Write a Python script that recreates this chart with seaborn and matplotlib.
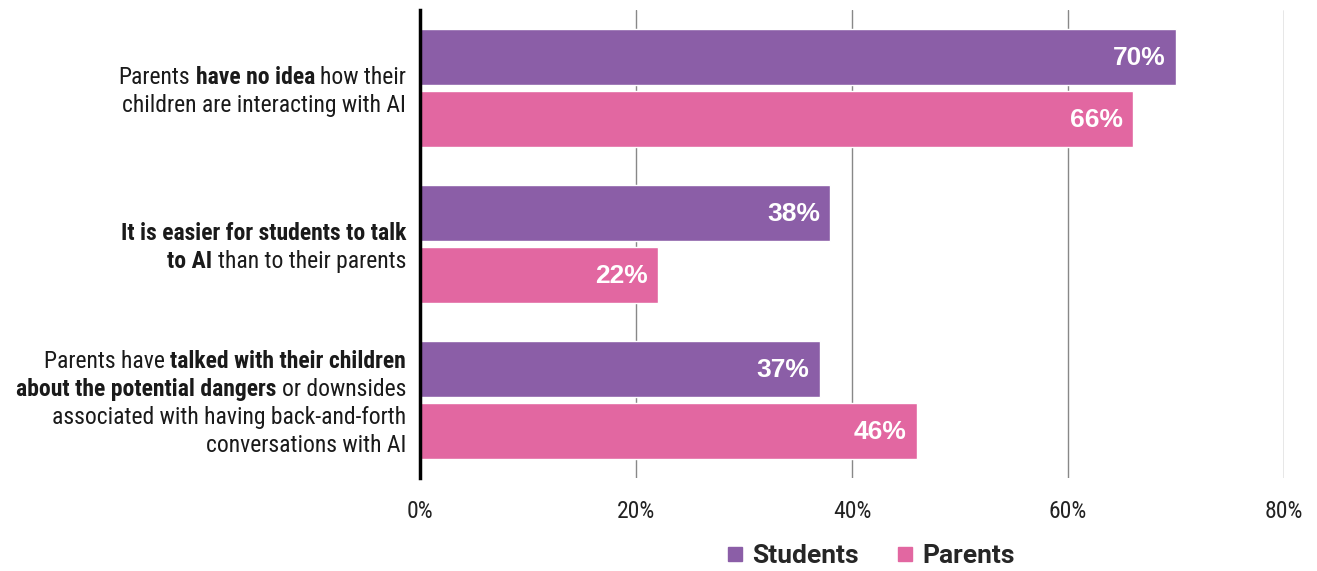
import matplotlib
matplotlib.use("Agg")
import matplotlib.pyplot as plt
import matplotlib.transforms as mtransforms
from matplotlib import font_manager
from matplotlib.font_manager import FontProperties
from matplotlib.lines import Line2D
import seaborn as sns
import pandas as pd

# data
categories = ["no_idea", "easier_ai", "talked_dangers"]
students = [70, 38, 37]
parents = [66, 22, 46]
groups = ["Students", "Parents"]
x_ticks = [0, 20, 40, 60, 80]

# label lines as (text, bold) segments
label_lines = [
    [[("Parents", False), ("have no idea", True), ("how their", False)],
     [("children are interacting with AI", False)]],
    [[("It is easier for students to talk", True)],
     [("to AI", True), ("than to their parents", False)]],
    [[("Parents have", False), ("talked with their children", True)],
     [("about the potential dangers", True), ("or downsides", False)],
     [("associated with having back-and-forth", False)],
     [("conversations with AI", False)]],
]

PURPLE = "#8B5EA7"
PINK = "#E267A1"


def weight_num(w):
    if isinstance(w, int):
        return w
    return {"normal": 400, "regular": 400, "book": 400, "medium": 500, "semibold": 600,
            "demibold": 600, "bold": 700, "heavy": 800, "black": 900, "light": 300}.get(str(w).lower(), 400)


def find_condensed():
    # look for a narrow/condensed face with a regular and bold file
    prefs = ["Roboto Condensed", "Noto Sans", "DejaVu Sans", "Liberation Sans Narrow", "Open Sans"]
    entries = font_manager.fontManager.ttflist
    for fam in prefs:
        cand = [e for e in entries if e.name == fam and e.style == "normal"
                and ("condensed" in str(e.stretch) or "Narrow" in e.name or "Condensed" in e.name)
                and "extra" not in str(e.stretch) and "ultra" not in str(e.stretch)]
        reg = [e for e in cand if weight_num(e.weight) == 400]
        bold = [e for e in cand if weight_num(e.weight) == 700]
        if reg and bold:
            return reg[0].fname, bold[0].fname
    return None, None


reg_file, bold_file = find_condensed()
if reg_file:
    fp_reg = FontProperties(fname=reg_file, size=17)
    fp_bold = FontProperties(fname=bold_file, size=17)
    fp_tick = FontProperties(fname=reg_file, size=17)
else:
    fp_reg = FontProperties(family="Roboto", size=15)
    fp_bold = FontProperties(family="Roboto", weight="bold", size=15)
    fp_tick = FontProperties(family="Roboto", size=15)

sns.set_theme(style="white")
plt.rcParams["font.family"] = ["Roboto", "DejaVu Sans"]

df = pd.DataFrame({
    "category": categories * 2,
    "value": students + parents,
    "group": [groups[0]] * 3 + [groups[1]] * 3,
})

fig = plt.figure(figsize=(13.17, 5.71), dpi=100)
ax = fig.add_axes([420 / 1317, 1 - 478 / 571, 864 / 1317, 468 / 571])

sns.barplot(data=df, y="category", x="value", hue="group", orient="h",
            palette=[PURPLE, PINK], width=0.8, gap=0.1, ax=ax, legend=False,
            saturation=1)

ax.set_xlim(0, 80)
ax.set_ylim(2.5, -0.5)
ax.set_xticks(x_ticks)
ax.set_xticklabels([f"{t}%" for t in x_ticks], fontproperties=fp_tick, color="#222222")
ax.tick_params(axis="x", length=0, pad=16)
ax.set_yticks([])
ax.set_xlabel("")
ax.set_ylabel("")
ax.grid(axis="x", color="#888888", linewidth=1)
ax.set_axisbelow(True)
for s in ["top", "right", "bottom"]:
    ax.spines[s].set_visible(False)
ax.spines["left"].set_color("black")
ax.spines["left"].set_linewidth(2.5)
ax.spines["left"].set_zorder(5)

# value labels, inside the bar end
for cont in ax.containers:
    for bar in cont:
        tr = mtransforms.offset_copy(ax.transData, fig=fig, x=-10, y=-1, units="dots")
        ax.text(bar.get_width(), bar.get_y() + bar.get_height() / 2, f"{bar.get_width():.0f}%",
                transform=tr, ha="right", va="center", color="white", fontsize=19,
                fontweight="bold", fontfamily=["Liberation Sans", "DejaVu Sans"])

# mixed-weight category labels, right aligned
fig.canvas.draw()
renderer = fig.canvas.get_renderer()


def text_width(s, bold):
    t = fig.text(0, 0, s, fontproperties=fp_bold if bold else fp_reg)
    w = t.get_window_extent(renderer).width
    t.remove()
    return w


space_w = text_width("a a", False) - text_width("aa", False)
line_h = 28
base = mtransforms.blended_transform_factory(ax.transAxes, ax.transData)
for i, lines in enumerate(label_lines):
    n = len(lines)
    for j, segs in enumerate(lines):
        dy = ((n - 1) / 2 - j) * line_h - 3
        dx = -14
        for text, bold in reversed(segs):
            tr = mtransforms.offset_copy(base, fig=fig, x=dx, y=dy, units="dots")
            ax.text(0, i, text, transform=tr, ha="right", va="center", color="#1a1a1a",
                    fontproperties=fp_bold if bold else fp_reg)
            dx -= text_width(text, bold) + space_w

handles = [Line2D([], [], marker="s", linestyle="", markersize=10.5, color=c) for c in [PURPLE, PINK]]
leg = fig.legend(handles, groups, loc="center", bbox_to_anchor=(0.658, 0.026), ncol=2,
                 frameon=False, handletextpad=0.0, columnspacing=1.1, handlelength=1.3,
                 borderpad=0.2, prop={"family": "Roboto", "weight": "bold", "size": 19})

fig.savefig("out.png", dpi=100)
